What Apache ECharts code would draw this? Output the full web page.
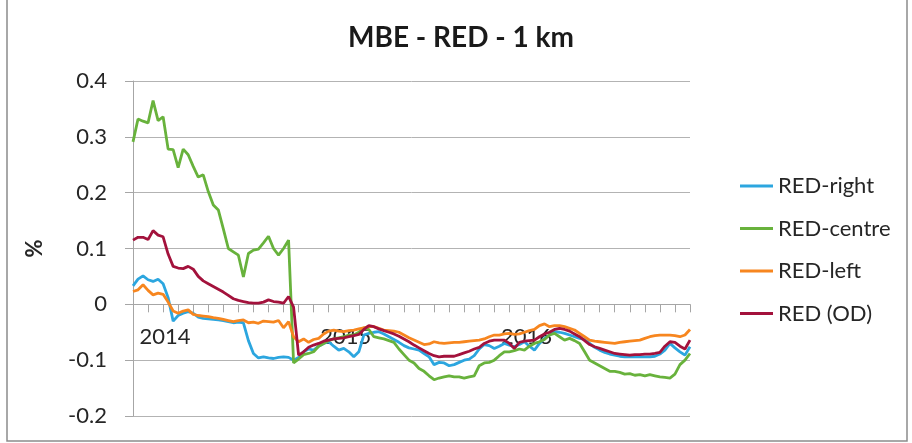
<!DOCTYPE html>
<html>
<head>
<meta charset="utf-8">
<script src="https://cdn.jsdelivr.net/npm/echarts@6/dist/echarts.min.js"></script>
<style>
html,body{margin:0;padding:0;background:#fff;}
#c{width:912px;height:443px;}
</style>
</head>
<body>
<div id="c"></div>
<script>
// Year labels placed at category index (dekadal series, 112 points)
const yearLabelIndex = [6, 42, 78];
const yearLabels = ['2014', '2015', '2016'];
const nPoints = 112;

const redRight = [
 0.033,0.045,0.051,0.044,0.041,0.045,0.037,0.012,-0.030,-0.020,
 -0.016,-0.013,-0.016,-0.023,-0.025,-0.026,-0.027,-0.028,-0.029,-0.031,
 -0.033,-0.032,-0.033,-0.065,-0.088,-0.096,-0.094,-0.096,-0.097,-0.095,
 -0.094,-0.095,-0.100,-0.095,-0.085,-0.080,-0.082,-0.075,-0.070,-0.067,
 -0.075,-0.082,-0.079,-0.085,-0.094,-0.085,-0.055,-0.052,-0.050,-0.049,
 -0.053,-0.058,-0.063,-0.068,-0.074,-0.078,-0.080,-0.082,-0.088,-0.094,
 -0.108,-0.104,-0.105,-0.110,-0.108,-0.104,-0.100,-0.098,-0.092,-0.080,
 -0.072,-0.074,-0.079,-0.075,-0.070,-0.073,-0.076,-0.072,-0.067,-0.075,
 -0.082,-0.070,-0.061,-0.055,-0.049,-0.050,-0.052,-0.055,-0.058,-0.061,
 -0.063,-0.070,-0.077,-0.082,-0.086,-0.089,-0.091,-0.093,-0.094,-0.094,
 -0.094,-0.094,-0.094,-0.094,-0.093,-0.089,-0.082,-0.070,-0.078,-0.085,
 -0.091,-0.076
];

const redCentre = [
 0.291,0.332,0.328,0.325,0.365,0.329,0.336,0.278,0.277,0.245,
 0.278,0.268,0.247,0.228,0.232,0.202,0.178,0.169,0.135,0.100,
 0.094,0.088,0.049,0.091,0.097,0.099,0.110,0.122,0.100,0.088,
 0.100,0.115,-0.105,-0.098,-0.090,-0.088,-0.085,-0.075,-0.070,-0.065,
 -0.062,-0.060,-0.058,-0.055,-0.055,-0.050,-0.042,-0.045,-0.058,-0.060,
 -0.062,-0.065,-0.068,-0.080,-0.090,-0.100,-0.105,-0.115,-0.120,-0.128,
 -0.135,-0.132,-0.130,-0.128,-0.130,-0.130,-0.132,-0.130,-0.128,-0.110,
 -0.105,-0.104,-0.100,-0.092,-0.085,-0.085,-0.083,-0.080,-0.082,-0.075,
 -0.070,-0.067,-0.063,-0.055,-0.052,-0.058,-0.064,-0.061,-0.065,-0.070,
 -0.085,-0.100,-0.105,-0.110,-0.115,-0.120,-0.120,-0.122,-0.125,-0.124,
 -0.127,-0.126,-0.128,-0.126,-0.128,-0.130,-0.131,-0.132,-0.125,-0.108,
 -0.100,-0.088
];

const redLeft = [
 0.023,0.026,0.035,0.025,0.017,0.020,0.018,0.004,-0.012,-0.016,
 -0.012,-0.010,-0.018,-0.020,-0.021,-0.022,-0.024,-0.025,-0.027,-0.029,
 -0.031,-0.029,-0.028,-0.033,-0.032,-0.034,-0.030,-0.031,-0.032,-0.029,
 -0.042,-0.031,-0.058,-0.067,-0.062,-0.068,-0.063,-0.061,-0.053,-0.048,
 -0.046,-0.048,-0.049,-0.047,-0.046,-0.044,-0.042,-0.040,-0.040,-0.043,
 -0.046,-0.047,-0.048,-0.050,-0.055,-0.060,-0.064,-0.068,-0.072,-0.071,
 -0.067,-0.069,-0.070,-0.069,-0.068,-0.068,-0.067,-0.066,-0.065,-0.064,
 -0.062,-0.058,-0.055,-0.055,-0.053,-0.052,-0.054,-0.053,-0.050,-0.047,
 -0.045,-0.038,-0.035,-0.040,-0.038,-0.038,-0.040,-0.043,-0.046,-0.052,
 -0.058,-0.064,-0.066,-0.067,-0.068,-0.069,-0.070,-0.068,-0.067,-0.066,
 -0.065,-0.064,-0.061,-0.058,-0.056,-0.055,-0.055,-0.055,-0.056,-0.058,
 -0.055,-0.045
];

const redOD = [
 0.115,0.120,0.120,0.116,0.132,0.124,0.121,0.090,0.068,0.065,
 0.064,0.068,0.063,0.050,0.042,0.037,0.032,0.027,0.022,0.016,
 0.010,0.007,0.005,0.003,0.002,0.002,0.004,0.008,0.005,0.004,
 0.002,0.014,-0.005,-0.091,-0.085,-0.077,-0.073,-0.070,-0.066,-0.064,
 -0.062,-0.061,-0.060,-0.058,-0.056,-0.054,-0.045,-0.038,-0.040,-0.044,
 -0.047,-0.050,-0.053,-0.057,-0.062,-0.067,-0.073,-0.078,-0.083,-0.088,
 -0.092,-0.094,-0.093,-0.093,-0.093,-0.090,-0.087,-0.084,-0.080,-0.077,
 -0.070,-0.066,-0.064,-0.064,-0.064,-0.070,-0.079,-0.068,-0.066,-0.065,
 -0.064,-0.058,-0.053,-0.050,-0.045,-0.043,-0.045,-0.048,-0.053,-0.058,
 -0.065,-0.072,-0.076,-0.079,-0.082,-0.085,-0.088,-0.089,-0.090,-0.091,
 -0.090,-0.090,-0.089,-0.089,-0.088,-0.086,-0.075,-0.067,-0.068,-0.075,
 -0.080,-0.064
];

const categories = [];
for (let i = 0; i < nPoints; i++) {
  const k = yearLabelIndex.indexOf(i);
  categories.push(k >= 0 ? yearLabels[k] : '');
}

const Y_MIN = -0.2, Y_MAX = 0.4;
const GRID = {left: 133, right: 222, top: 81, bottom: 27};
const plotH = 443 - GRID.top - GRID.bottom;
// move the category axis up to the zero line
const zeroOffset = -plotH * (0 - Y_MIN) / (Y_MAX - Y_MIN);

const FONT = 'Lato, "Open Sans", sans-serif';
const chart = echarts.init(document.getElementById('c'), null, {renderer: 'canvas'});
const lineSeries = (name, data, color) => ({
  name, type: 'line', data, symbol: 'none', smooth: false,
  lineStyle: {color, width: 2.8}, itemStyle: {color}, animation: false
});

chart.setOption({
  animation: false,
  backgroundColor: '#ffffff',
  textStyle: {fontFamily: FONT},
  title: {
    text: 'MBE - RED - 1 km', left: 456, top: 19, textAlign: 'center',
    textStyle: {fontFamily: FONT, fontSize: 28, fontWeight: 'bold', color: '#1a1a1a'}
  },
  legend: {
    orient: 'vertical', left: 735, top: 170, itemWidth: 33, itemHeight: 3, itemGap: 20.5,
    icon: 'rect',
    textStyle: {fontFamily: FONT, fontSize: 22, color: '#262626', lineHeight: 22},
    data: ['RED-right', 'RED-centre', 'RED-left', 'RED (OD)']
  },
  grid: Object.assign({containLabel: false, outerBoundsMode: 'none'}, GRID),
  xAxis: {
    type: 'category', data: categories, boundaryGap: false,
    offset: zeroOffset,
    axisLine: {onZero: false, lineStyle: {color: '#a6a6a6', width: 1}},
    axisTick: {show: true, interval: 2, length: 8, lineStyle: {color: '#a6a6a6'}},
    axisLabel: {interval: 0, margin: 22, fontSize: 22, color: '#262626', fontFamily: FONT,
      padding: [0, 0, 0, 4]},
    splitLine: {show: false}
  },
  yAxis: {
    type: 'value', min: Y_MIN, max: Y_MAX, interval: 0.1,
    name: '%', nameLocation: 'middle', nameGap: 87, nameRotate: 90,
    nameTextStyle: {fontFamily: FONT, fontSize: 22, fontWeight: 'bold', color: '#262626'},
    axisLine: {show: true, lineStyle: {color: '#a6a6a6'}},
    axisTick: {show: true, length: 8, lineStyle: {color: '#a6a6a6'}},
    axisLabel: {
      margin: 26, fontSize: 22, color: '#262626', fontFamily: FONT,
      formatter: v => (Math.abs(v) < 1e-9 ? '0' : v.toFixed(1))
    },
    splitLine: {show: true, lineStyle: {color: '#b3b3b3', width: 1}}
  },
  graphic: [{
    type: 'rect', shape: {x: 7, y: -10, width: 900, height: 451},
    style: {fill: 'none', stroke: '#8c8c8c', lineWidth: 1.5}, silent: true
  }],
  series: [
    lineSeries('RED-right', redRight, '#2ca6df'),
    lineSeries('RED-centre', redCentre, '#68b23c'),
    lineSeries('RED-left', redLeft, '#f7861f'),
    lineSeries('RED (OD)', redOD, '#a3123c')
  ]
});
</script>
</body>
</html>
